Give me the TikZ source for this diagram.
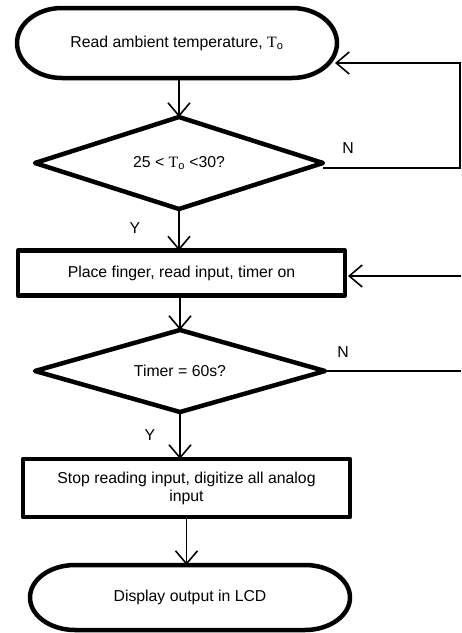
\documentclass[tikz,border=0pt]{standalone}
\usepackage{fontspec}
\setmainfont{Liberation Sans}
\newfontfamily\serifT{Liberation Serif}
\usetikzlibrary{arrows.meta,calc}
\newcommand{\Tsub}{{\serifT T}\textsubscript{o}}
\begin{document}
\begin{tikzpicture}[x=1pt,y=1pt,
  every node/.style={font=\fontsize{15.8}{18}\selectfont},
  shapebox/.style={minimum width=#1, outer sep=0pt, inner sep=0pt, align=center},
  outline/.style={line width=4.5pt, line join=round},
  arr/.style={line width=1.6pt, -{Straight Barb[length=13pt,width=22pt,line width=1.6pt]}},
  thin/.style={line width=1.6pt},
  lbl/.style={inner sep=0pt}]
\useasboundingbox (0,0) rectangle (462,-633);
% nodes
\node[shapebox=320, minimum height=70] (t1) at (177,-43) {Read ambient temperature, \Tsub};
\node[shapebox=288, minimum height=92] (d1) at (179,-163) {25 < \Tsub{} <30?};
\node[shapebox=327, minimum height=45] (b1) at (181.5,-273) {Place finger, read input, timer on};
\node[shapebox=290, minimum height=82] (d2) at (180,-371) {Timer = 60s?};
\node[shapebox=327, minimum height=58] (b2) at (186.5,-488) {Stop reading input, digitize all analog\\input};
\node[shapebox=320, minimum height=65] (t2) at (190,-597.5) {Display output in LCD};
% shapes
\draw[outline] ([xshift=45]t1.north west) -- ([xshift=-45]t1.north east)
  arc[start angle=90,end angle=-90,x radius=45,y radius=35]
  -- ([xshift=45]t1.south west)
  arc[start angle=270,end angle=90,x radius=45,y radius=35] -- cycle;
\draw[outline] ([xshift=45]t2.north west) -- ([xshift=-45]t2.north east)
  arc[start angle=90,end angle=-90,x radius=45,y radius=32.5]
  -- ([xshift=45]t2.south west)
  arc[start angle=270,end angle=90,x radius=45,y radius=32.5] -- cycle;
\draw[outline] (d1.west) -- (d1.north) -- (d1.east) -- (d1.south) -- cycle;
\draw[outline] (d2.west) -- (d2.north) -- (d2.east) -- (d2.south) -- cycle;
\draw[outline] (b1.north west) rectangle (b1.south east);
\draw[outline] (b2.north west) rectangle (b2.south east);
% connectors
\draw[arr] (d1.north |- t1.south) -- (d1.north);
\draw[arr] (d1.south) -- (d1.south |- b1.north);
\draw[arr] (d2.north |- b1.south) -- (d2.north);
\draw[arr] (d2.south) -- (d2.south |- b2.north);
\draw[arr] (b2.south) -- (b2.south |- t2.north);
\coordinate (c1) at (460,-168);
\coordinate (c2) at (461,-276);
\coordinate (c3) at (461,-371);
\draw[arr] ([yshift=-5]d1.east) -- (c1) |- ([yshift=-20,xshift=-2]t1.east);
\draw[arr] (c2) -- ($(c2 -| b1.east)+(3,0)$);
\draw[thin] (d2.east) -- (c3);
% labels
\node[lbl] (n1) at (348,-148) {N};
\node[lbl] (n2) at (343,-352) {N};
\node[lbl] (y1) at (135,-228) {Y};
\node[lbl] (y2) at (150,-435) {Y};
\end{tikzpicture}
\end{document}
